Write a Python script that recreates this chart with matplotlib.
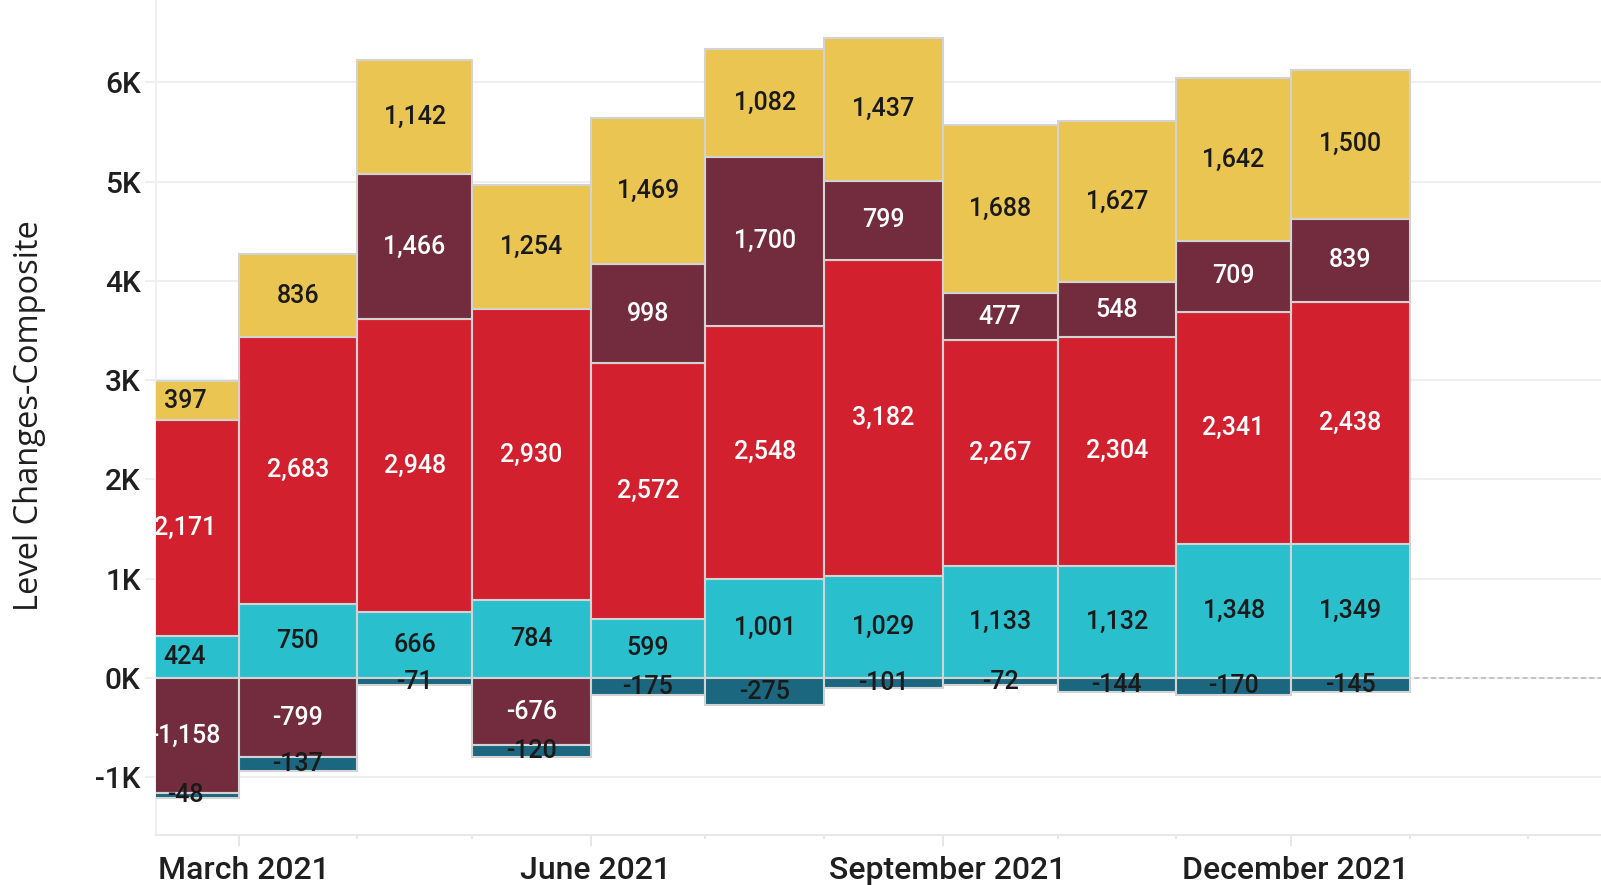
import datetime as dt
import numpy as np
import matplotlib
matplotlib.use("Agg")
import matplotlib.pyplot as plt
import matplotlib.dates as mdates
import matplotlib.transforms as mtransforms
from matplotlib.ticker import FixedLocator, FuncFormatter

# ---------------- data ----------------
bar_months = ["2021-02", "2021-03", "2021-04", "2021-05", "2021-06", "2021-07",
              "2021-08", "2021-09", "2021-10", "2021-11", "2021-12"]
cyan_vals   = [424, 750, 666, 784, 599, 1001, 1029, 1133, 1132, 1348, 1349]
red_vals    = [2171, 2683, 2948, 2930, 2572, 2548, 3182, 2267, 2304, 2341, 2438]
maroon_vals = [-1158, -799, 1466, -676, 998, 1700, 799, 477, 548, 709, 839]
yellow_vals = [397, 836, 1142, 1254, 1469, 1082, 1437, 1688, 1627, 1642, 1500]
teal_vals   = [-48, -137, -71, -120, -175, -275, -101, -72, -144, -170, -145]

tick_labels = ["March 2021", "June 2021", "September 2021", "December 2021"]
tick_dates = ["2021-03-01", "2021-06-01", "2021-09-01", "2021-12-01"]
y_ticks = [-1000, 0, 1000, 2000, 3000, 4000, 5000, 6000]
y_title = "Level Changes-Composite"

series = [
    (cyan_vals,   "#29BFCD", "#1a1a1a"),
    (red_vals,    "#D2202F", "white"),
    (maroon_vals, "#722C3D", "white"),
    (yellow_vals, "#EAC552", "#1a1a1a"),
    (teal_vals,   "#1B677F", "#1a1a1a"),
]

# ---------------- geometry ----------------
def month_start(s):
    y, m = map(int, s.split("-"))
    return dt.date(y, m, 1)

def next_month(d):
    return dt.date(d.year + (d.month // 12), d.month % 12 + 1, 1)

starts = [month_start(m) for m in bar_months]
ends = [next_month(d) for d in starts]
x_left = mdates.date2num(starts)
widths = mdates.date2num(ends) - x_left
x_mid = x_left + widths / 2

W, H = 1601, 885
fig = plt.figure(figsize=(W / 100, H / 100), dpi=100)
ax = fig.add_axes([156 / W, 50 / H, (W - 156) / W, 835 / H])

label_font = "Roboto"
text_col = "#1f1f1f"

pos_bottom = np.zeros(len(bar_months))
neg_bottom = np.zeros(len(bar_months))
for vals, color, tcol in series:
    vals = np.array(vals, dtype=float)
    bottoms = np.where(vals >= 0, pos_bottom, neg_bottom)
    ax.bar(x_left, vals, width=widths, bottom=bottoms, align="edge",
           color=color, edgecolor="#D3D3D3", linewidth=1.5, zorder=3)
    for xm, b, v in zip(x_mid, bottoms, vals):
        if v == 0:
            continue
        ax.text(xm, b + v / 2, f"{int(v):,}", ha="center", va="center",
                fontsize=18, color=tcol, family=label_font, weight="medium",
                zorder=5, clip_on=True)
    pos_bottom = np.where(vals >= 0, pos_bottom + vals, pos_bottom)
    neg_bottom = np.where(vals < 0, neg_bottom + vals, neg_bottom)

# zero line
ax.axhline(0, color="#BBBBBB", lw=1.2, ls=(0, (3, 2)), zorder=2)

# axes limits
x0 = mdates.date2num(dt.date(2021, 3, 1))
ax.set_xlim(x0 - 21.56, x0 + 356.0)
ax.set_ylim(-1581, 6828)

# x ticks
major = mdates.date2num([dt.date.fromisoformat(d) for d in tick_dates])
all_months = []
d = dt.date(2021, 3, 1)
while d <= dt.date(2022, 2, 1):
    all_months.append(d)
    d = next_month(d)
minor = [m for m in mdates.date2num(all_months) if m not in set(major)]
ax.xaxis.set_major_locator(FixedLocator(major))
ax.xaxis.set_minor_locator(FixedLocator(minor))
ax.set_xticklabels(tick_labels)
ax.tick_params(axis="x", which="major", length=8, width=1.2, color="#E3E3E3",
               labelsize=23, labelcolor=text_col, pad=7)
ax.tick_params(axis="x", which="minor", length=3, width=1.2, color="#E3E3E3")
shift = mtransforms.ScaledTranslation(5 / 100, 0, fig.dpi_scale_trans)
for lab in ax.get_xticklabels():
    lab.set_family(label_font)
    lab.set_weight("medium")
    lab.set_transform(lab.get_transform() + shift)

# y ticks
ax.yaxis.set_major_locator(FixedLocator(y_ticks))
ax.yaxis.set_major_formatter(FuncFormatter(lambda v, p: f"{int(round(v / 1000))}K"))
ax.tick_params(axis="y", length=8, width=1.5, color="#EFEFEF",
               labelsize=21.5, labelcolor=text_col, pad=3)
for lab in ax.get_yticklabels():
    lab.set_family(label_font)
    lab.set_weight("medium")
ax.yaxis.grid(True, color="#EFEFEF", lw=1.5, zorder=0)
ax.set_axisbelow(True)

for s in ["top", "right"]:
    ax.spines[s].set_visible(False)
ax.spines["left"].set_color("#EFEFEF")
ax.spines["left"].set_linewidth(1.5)
ax.spines["bottom"].set_color("#E8E8E8")
ax.spines["bottom"].set_linewidth(1.5)

fig.text(30 / W, 1 - 416 / H, y_title, rotation=90, ha="center", va="center",
         fontsize=23.5, family="Open Sans", color=text_col)

fig.savefig("out.png", dpi=100)
